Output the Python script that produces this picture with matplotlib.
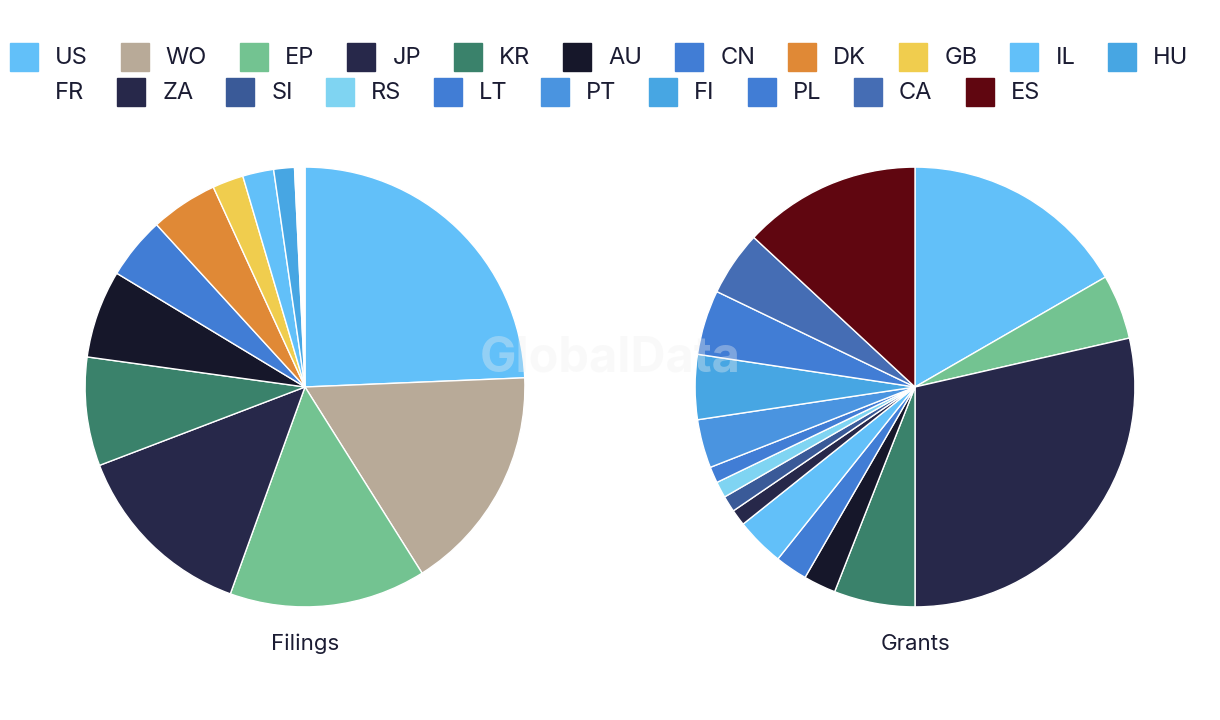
import matplotlib.pyplot as plt
from matplotlib.patches import Rectangle

# legend entries (country codes and colours)
codes = ['US', 'WO', 'EP', 'JP', 'KR', 'AU', 'CN', 'DK', 'GB', 'IL', 'HU',
         'FR', 'ZA', 'SI', 'RS', 'LT', 'PT', 'FI', 'PL', 'CA', 'ES']
colors = ['#62c0f9', '#b8aa98', '#73c391', '#27284a', '#3a826b', '#16172a',
          '#417dd5', '#e08936', '#f0cd4e', '#62c0f9', '#47a6e3',
          '#ffffff', '#27284a', '#3a5a98', '#7fd4f2', '#417dd5', '#4a94e0',
          '#47a6e3', '#417dd5', '#456db4', '#600610']
cmap = dict(zip(codes, colors))

# filings
fil_codes = ['US', 'WO', 'EP', 'JP', 'KR', 'AU', 'CN', 'DK', 'GB', 'IL', 'HU', 'FR']
fil_vals = [32, 22, 19, 18, 10.5, 8.5, 6, 6.5, 3, 3, 2, 1]

# grants
gr_codes = ['US', 'EP', 'JP', 'KR', 'AU', 'CN', 'IL', 'ZA', 'SI', 'RS', 'LT',
            'PT', 'FI', 'PL', 'CA', 'ES']
gr_vals = [14, 4, 24, 5, 2, 2, 3, 1, 1, 1, 1, 3, 4, 4, 4, 11]

txt_col = '#1b1c33'
plt.rcParams['font.family'] = ['Inter', 'DejaVu Sans']

W, H = 1220, 720
fig = plt.figure(figsize=(12.2, 7.2), dpi=100)


def pie_axes(cx, cy, r):
    ax = fig.add_axes([(cx - r) / W, (H - cy - r) / H, 2 * r / W, 2 * r / H])
    ax.axis('off')
    return ax


for cx, labels, vals, title in [(305, fil_codes, fil_vals, 'Filings'),
                                (915, gr_codes, gr_vals, 'Grants')]:
    ax = pie_axes(cx, 387, 221)
    ax.pie(vals, colors=[cmap[c] for c in labels], startangle=90,
           counterclock=False, radius=1,
           wedgeprops=dict(edgecolor='white', linewidth=1))
    ax.set_xlim(-1.005, 1.005)
    ax.set_ylim(-1.005, 1.005)
    fig.text(cx / W, 1 - 644 / H, title, ha='center', va='center',
             fontsize=16, color=txt_col)

# watermark
fig.text(610 / W, 1 - 358 / H, 'GlobalData', ha='center', va='center',
         fontsize=35, fontweight='bold', color='#f0f0f0', alpha=0.35)

# flowing legend
fig.canvas.draw()
renderer = fig.canvas.get_renderer()
x, y = 10, 57
for c in codes:
    t = fig.text(0, 0, c, fontsize=17, color=txt_col, va='center')
    w = t.get_window_extent(renderer).width
    if x + 45 + w > W - 10:
        x, y = 10, 92
    fig.patches.append(Rectangle((x / W, 1 - (y + 14) / H), 28 / W, 28 / H,
                                 transform=fig.transFigure, color=cmap[c]))
    t.set_position(((x + 45) / W, 1 - (y + 1) / H))
    x += 45 + w + 33

fig.savefig('out.png', dpi=100, facecolor='white')
